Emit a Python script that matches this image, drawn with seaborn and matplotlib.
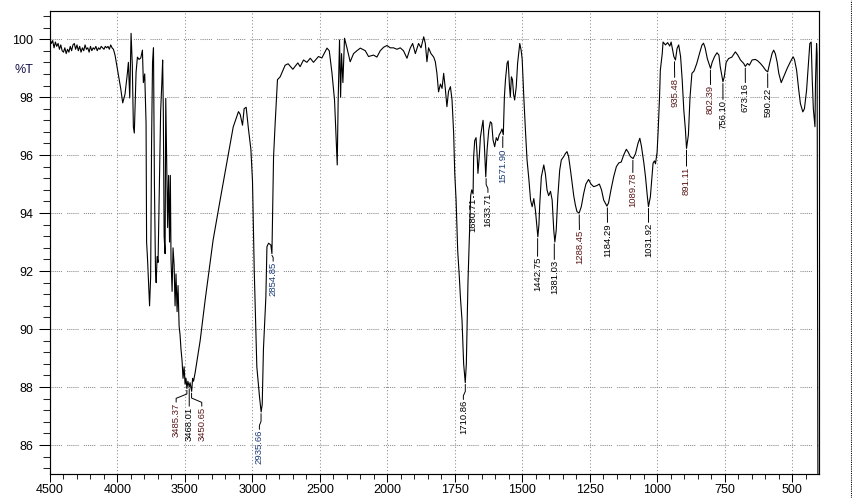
import numpy as np
import pandas as pd
import matplotlib
matplotlib.use("Agg")
import matplotlib.pyplot as plt
import seaborn as sns
from matplotlib.ticker import FixedLocator, FixedFormatter
from matplotlib.lines import Line2D

# ---------------- data ----------------
wavenumber = [
    4500, 4490, 4480, 4470, 4460, 4450, 4440, 4430, 4420, 4410, 4400, 4390, 4380, 4370, 4360,
    4350, 4340, 4330, 4320, 4310, 4300, 4290, 4280, 4270, 4260, 4250, 4240, 4230, 4220, 4210,
    4200, 4190, 4180, 4170, 4160, 4150, 4140, 4130, 4120, 4110, 4100, 4090, 4080, 4070, 4060,
    4050, 4040, 4030,
    4018, 3993, 3976, 3961, 3944, 3927, 3919, 3909, 3899, 3890, 3882, 3875, 3862, 3852, 3840,
    3827, 3815, 3808, 3798, 3788, 3784, 3777, 3769, 3762, 3754, 3747, 3740, 3733, 3726, 3718,
    3713, 3706, 3699, 3691, 3680, 3671, 3665, 3660, 3654, 3647, 3642, 3636, 3628, 3621, 3614,
    3608, 3603, 3595, 3588, 3580, 3573, 3566, 3558, 3551, 3543, 3536, 3529, 3521, 3514, 3506,
    3499, 3492, 3485, 3478, 3468, 3462, 3450, 3443, 3436, 3424, 3387, 3350, 3313, 3291, 3239,
    3177, 3142, 3103, 3090, 3073, 3061, 3046, 3029, 3011, 2999, 2986, 2967, 2947, 2935, 2927,
    2918, 2900, 2892, 2880, 2863, 2855, 2843, 2831, 2814, 2794, 2757, 2735, 2700, 2663, 2646,
    2621, 2596, 2571, 2547, 2510, 2485, 2447, 2430, 2410, 2391, 2378, 2371, 2364, 2354, 2346,
    2339, 2329, 2317, 2299, 2275, 2250, 2225, 2200, 2163, 2139, 2102, 2077, 2052, 2027, 2002,
    1989, 1977, 1964, 1952, 1940, 1927, 1915, 1906, 1896, 1884, 1875, 1865, 1859, 1853, 1847,
    1838, 1828, 1822, 1816, 1810, 1803, 1797, 1791, 1785, 1779, 1773, 1766, 1760, 1754, 1750,
    1745, 1739, 1733, 1729, 1723, 1717, 1711, 1707, 1701, 1695, 1691, 1687, 1682, 1680, 1676,
    1671, 1667, 1664, 1659, 1655, 1649, 1645, 1640, 1635, 1630, 1624, 1618, 1613, 1608, 1602,
    1596, 1591, 1585, 1579, 1575, 1570, 1566, 1562, 1556, 1552, 1547, 1544, 1540, 1536, 1532,
    1528, 1522, 1517, 1509, 1504, 1500, 1494, 1488, 1482, 1475, 1469, 1463, 1457, 1451, 1446,
    1442, 1438, 1435, 1429, 1420, 1414, 1408, 1402, 1395, 1389, 1383, 1379, 1374, 1368, 1361,
    1355, 1346, 1340, 1334, 1328, 1321, 1315, 1309, 1303, 1297, 1289, 1281, 1272, 1264, 1254,
    1245, 1235, 1223, 1214, 1206, 1198, 1186, 1180, 1171, 1161, 1151, 1142, 1133, 1124, 1114,
    1107, 1099, 1089, 1080, 1071, 1064, 1058, 1049, 1043, 1036, 1032, 1025, 1019, 1015, 1010,
    1006, 1003, 1000, 996, 991, 988, 981, 978, 969, 961, 953, 948, 938, 932, 926,
    920, 913, 907, 901, 895, 891, 884, 878, 871, 863, 853, 843, 834, 828, 822,
    814, 802, 796, 787, 778, 771, 766, 759, 756, 751, 744, 735, 723, 710, 701,
    691, 679, 673, 665, 658, 648, 636, 627, 617, 607, 598, 590, 583, 574, 568,
    562, 555, 549, 540, 531, 518, 506, 496, 491, 483, 475, 469, 460, 454, 446,
    440, 434, 429, 425, 421, 415, 413, 409, 407, 404, 400,
]
transmittance = [
    100.0, 99.85, 99.95, 99.7, 99.9, 99.75, 99.85, 99.65, 99.8, 99.6, 99.55, 99.7, 99.5, 99.65, 99.55,
    99.75, 99.6, 99.8, 99.85, 99.65, 99.8, 99.6, 99.75, 99.55, 99.7, 99.6, 99.8, 99.65, 99.7, 99.55,
    99.75, 99.6, 99.7, 99.65, 99.75, 99.6, 99.7, 99.65, 99.75, 99.7, 99.65, 99.75, 99.7, 99.75, 99.65,
    99.8, 99.7, 99.65,
    99.45, 98.76, 98.3, 97.8, 98.1, 98.8, 99.2, 97.97, 100.2, 99.1, 96.97, 96.76, 98.86, 99.38, 99.3,
    99.35, 99.62, 98.5, 98.8, 97.1, 93.0, 92.4, 91.5, 90.8, 91.8, 96.5, 99.2, 99.7, 95.0, 92.0,
    91.6, 92.5, 92.3, 94.5, 97.5, 98.5, 99.28, 97.5, 93.2, 92.6, 97.96, 96.0, 93.5, 95.3, 93.0,
    95.3, 92.4, 91.3, 92.8, 92.2, 90.8, 91.9, 90.6, 91.5, 90.1, 89.8, 89.3, 88.9, 88.3, 88.7,
    88.1, 88.3, 87.95, 88.2, 88.0, 88.15, 87.85, 88.3, 88.2, 88.5, 89.6, 91.0, 92.3, 93.07, 94.45,
    96.07, 96.97, 97.5, 97.4, 97.03, 97.6, 97.65, 96.9, 96.2, 95.1, 92.0, 88.7, 87.66, 87.14, 87.4,
    89.3, 91.1, 92.84, 92.96, 92.9, 92.6, 95.94, 97.1, 98.6, 98.7, 99.1, 99.15, 98.96, 99.18, 99.05,
    99.28, 99.2, 99.34, 99.2, 99.4, 99.35, 99.69, 99.6, 98.83, 97.9, 96.4, 95.66, 97.9, 99.97, 98.0,
    99.5, 98.5, 100.03, 99.7, 99.22, 99.5, 99.6, 99.69, 99.6, 99.4, 99.45, 99.38, 99.6, 99.72, 99.78,
    99.7, 99.7, 99.65, 99.7, 99.6, 99.34, 99.69, 99.85, 99.5, 99.85, 99.7, 100.08, 99.85, 99.22, 99.7,
    99.5, 99.38, 99.22, 98.82, 98.18, 98.45, 98.3, 98.82, 98.3, 97.67, 98.2, 98.36, 97.9, 96.75, 95.37,
    94.45, 92.7, 91.8, 91.1, 90.3, 88.8, 88.15, 88.8, 91.6, 93.4, 94.6, 94.8, 94.66, 95.93, 96.5,
    96.6, 96.0, 95.37, 95.95, 96.6, 96.98, 97.2, 96.29, 95.25, 96.2, 96.86, 97.15, 97.1, 96.52, 96.29,
    96.6, 96.5, 96.7, 96.8, 96.9, 96.7, 98.0, 98.6, 99.17, 99.25, 98.36, 98.0, 98.7, 98.6, 98.1,
    97.9, 98.36, 99.17, 99.85, 99.62, 99.3, 98.0, 96.86, 95.83, 95.14, 94.45, 94.22, 94.5, 94.1, 93.6,
    93.18, 93.6, 94.3, 95.25, 95.66, 95.35, 94.8, 94.6, 94.75, 94.45, 93.41, 93.0, 93.4, 94.56, 95.48,
    95.83, 95.95, 96.05, 96.12, 95.95, 95.48, 95.03, 94.6, 94.28, 94.05, 94.0, 94.22, 94.68, 95.0, 95.16,
    95.0, 94.91, 94.95, 95.0, 94.8, 94.45, 94.24, 94.35, 94.8, 95.25, 95.6, 95.73, 95.76, 96.0, 96.2,
    96.1, 95.95, 95.88, 96.05, 96.4, 96.58, 96.3, 95.72, 95.25, 94.56, 94.22, 94.56, 95.25, 95.72, 95.8,
    95.7, 95.9, 96.1, 96.86, 98.0, 98.93, 99.5, 99.9, 99.8, 99.88, 99.76, 99.9, 99.4, 99.28, 99.68,
    99.8, 99.4, 98.59, 97.55, 96.86, 96.23, 96.7, 98.0, 98.82, 98.9, 99.16, 99.5, 99.79, 99.86, 99.7,
    99.33, 98.99, 99.2, 99.4, 99.53, 99.45, 99.05, 98.7, 98.53, 98.7, 99.2, 99.33, 99.38, 99.56, 99.45,
    99.28, 99.16, 99.06, 99.16, 99.1, 99.28, 99.3, 99.25, 99.16, 99.05, 98.93, 98.87, 99.16, 99.5, 99.62,
    99.5, 99.2, 98.82, 98.5, 98.7, 98.99, 99.22, 99.39, 99.3, 98.93, 98.24, 97.78, 97.49, 97.6, 98.24,
    99.05, 99.85, 99.9, 98.59, 97.6, 96.98, 98.5, 99.85, 99.5, 84.5, 84.5,
]

peak_labels = ["3485.37", "3468.01", "3450.65", "2935.66", "2854.85", "1710.86", "1680.71",
               "1633.71", "1571.90", "1442.75", "1381.03", "1288.45", "1184.29", "1089.78",
               "1031.92", "935.48", "891.11", "802.39", "756.10", "673.16", "590.22"]
peak_wn = [3485.37, 3468.01, 3450.65, 2935.66, 2854.85, 1710.86, 1680.71, 1633.71, 1571.90,
           1442.75, 1381.03, 1288.45, 1184.29, 1089.78, 1031.92, 935.48, 891.11, 802.39,
           756.10, 673.16, 590.22]
peak_T = [87.95, 88.0, 87.85, 87.14, 92.6, 88.15, 94.66, 95.25, 96.7, 93.18, 93.0, 94.0,
          94.24, 95.88, 94.22, 99.28, 96.23, 98.99, 98.53, 99.06, 98.87]
label_wn = [3565, 3468, 3375, 2948, 2846, 1718, 1682, 1627, 1572, 1443, 1381, 1288, 1184,
            1090, 1032, 935, 891, 802, 756, 673, 590]
label_top_T = [87.46, 87.32, 87.32, 86.52, 92.32, 87.55, 94.52, 94.69, 96.24, 92.49, 92.38,
               93.41, 93.66, 95.38, 93.66, 98.66, 95.6, 98.41, 97.9, 98.48, 98.31]
label_colors = ["#5a1818", "black", "#5a1818", "#1c3c78", "#1c3c78", "black", "black",
                "black", "#1c3c78", "black", "black", "#5a1818", "black", "#5a1818",
                "black", "#5a1818", "#5a1818", "#5a1818", "black", "black", "black"]

x_major = [4500, 4000, 3500, 3000, 2500, 2000, 1750, 1500, 1250, 1000, 750, 500]
y_major = [86, 88, 90, 92, 94, 96, 98, 100]

df = pd.DataFrame({"wavenumber": wavenumber, "transmittance": transmittance})

# ---------------- style ----------------
sns.set_style("white")
plt.rcParams["font.family"] = ["Liberation Sans", "DejaVu Sans"]

fig = plt.figure(figsize=(8.53, 4.98), dpi=100)
ax = fig.add_axes([50 / 853, 1 - 474 / 498, 769 / 853, 463 / 498])


def fwd(x):
    x = np.asarray(x, dtype=float)
    return np.where(x > 2000, 2000 + (x - 2000) / 2.0, x)


def inv(u):
    u = np.asarray(u, dtype=float)
    return np.where(u > 2000, 2000 + (u - 2000) * 2.0, u)


ax.set_xscale("function", functions=(fwd, inv))

sns.lineplot(data=df, x="wavenumber", y="transmittance", ax=ax, color="black",
             linewidth=0.8, sort=False, estimator=None, legend=False, zorder=3)

ax.set_xlim(4500, 400)
ax.set_ylim(85.0, 100.97)
ax.set_xlabel("")
ax.set_ylabel("")

# ticks
x_minor = [v for v in range(4400, 2000, -100) if v % 500] + \
          [v for v in range(1950, 420, -50) if v % 250]
y_minor = [round(v, 1) for v in np.arange(85.2, 100.97, 0.4)
           if abs(v - round(v / 2) * 2) > 1e-6]
ax.xaxis.set_major_locator(FixedLocator(x_major))
ax.xaxis.set_major_formatter(FixedFormatter([str(v) for v in x_major]))
ax.xaxis.set_minor_locator(FixedLocator(x_minor))
ax.yaxis.set_major_locator(FixedLocator(y_major))
ax.yaxis.set_major_formatter(FixedFormatter([str(v) for v in y_major]))
ax.yaxis.set_minor_locator(FixedLocator(y_minor))

ax.tick_params(axis="x", which="major", direction="out", length=5.8, width=0.75,
               pad=1.5, labelsize=9, colors="black", bottom=True)
ax.tick_params(axis="x", which="minor", direction="out", length=3.6, width=0.75, bottom=True)
ax.tick_params(axis="y", which="major", direction="out", length=7.9, width=0.75,
               pad=4, labelsize=9, colors="black", left=True)
ax.tick_params(axis="y", which="minor", direction="out", length=5.0, width=0.75, left=True)

for s in ax.spines.values():
    s.set_color("black")
    s.set_linewidth(0.85)
    s.set_visible(True)

ax.set_axisbelow(True)
ax.xaxis.grid(True, which="major", color="#8a8a8a", linestyle=(0, (1, 2.2)), linewidth=0.75)
ax.yaxis.grid(True, which="major", color="#8a8a8a",
              linestyle=(0, (1, 1, 1, 1, 1, 1, 1, 1, 1, 1, 1, 5)), linewidth=0.75)

# %T label
ax.text(-0.034, 98.95, "%T", transform=ax.get_yaxis_transform(), ha="center",
        va="center", fontsize=9, color="#10104a")

# peak labels with leader lines
for lab, pw, pt, lw_, lt, col in zip(peak_labels, peak_wn, peak_T, label_wn,
                                     label_top_T, label_colors):
    start = pt - 0.06
    knee1 = min(start, lt + 0.3)
    knee2 = min(start, lt + 0.15)
    ax.plot([pw, pw, lw_, lw_], [start, knee1, knee2, lt + 0.02], color="black",
            linewidth=0.7, zorder=4)
    ax.text(lw_, lt, lab, rotation=90, ha="center", va="top", fontsize=6.8,
            color=col, zorder=5)

# outer dotted frame line on the right
fig.add_artist(Line2D([851.5 / 853, 851.5 / 853], [0, 1], transform=fig.transFigure,
                      color="black", linewidth=0.8, linestyle=(0, (1, 1))))

fig.savefig("out.png", dpi=100)
